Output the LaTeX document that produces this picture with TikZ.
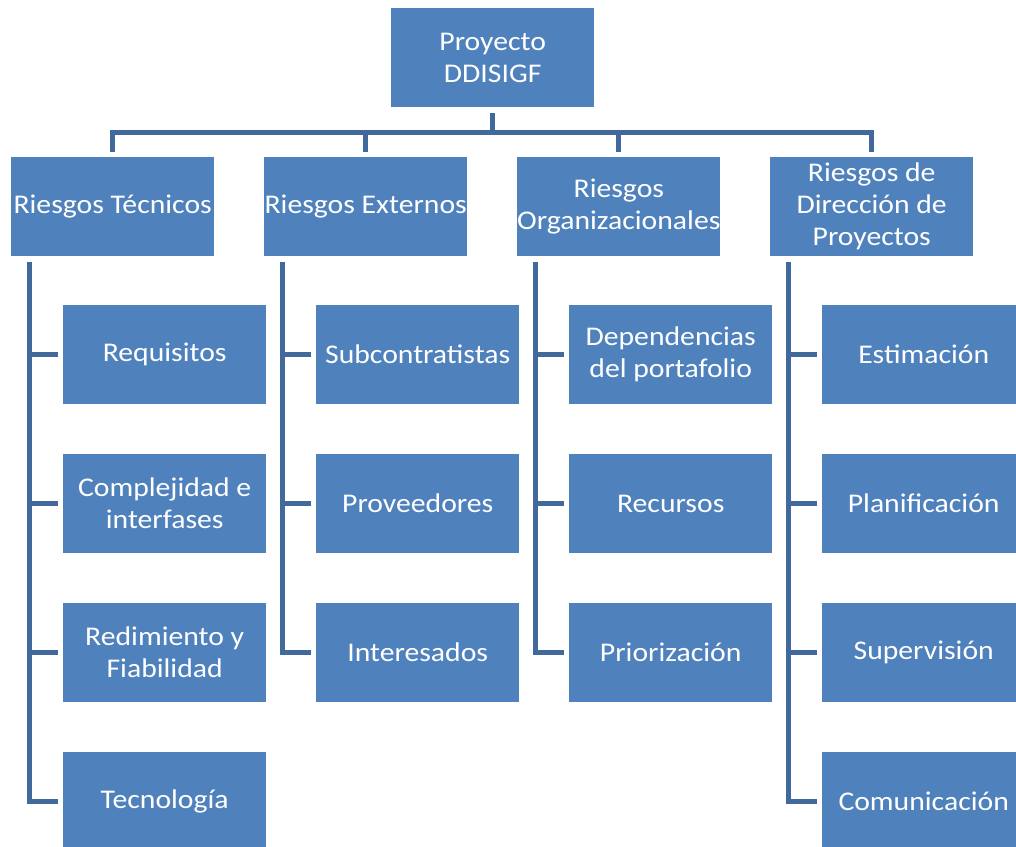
\documentclass[tikz,border=0pt]{standalone}
\usepackage{fontspec}
\setmainfont{Carlito}[FakeStretch=1.1]
\usetikzlibrary{calc}
\definecolor{boxblue}{HTML}{4F81BD}
\definecolor{lineblue}{HTML}{41699C}
\begin{document}
\begin{tikzpicture}[x=1pt,y=-1pt,
  box/.style={fill=boxblue, text=white, minimum width=203pt, minimum height=99pt,
    align=center, inner sep=0pt, anchor=north west,
    font=\fontsize{27}{32}\selectfont},
  link/.style={draw=lineblue, line width=5pt, line join=miter}]
\useasboundingbox (0,0) rectangle (1016,846);

% root
\node[box] (top) at (391,8) {Proyecto\\DDISIGF};

% risk categories
\node[box] (r1) at (11,157)  {Riesgos Técnicos};
\node[box] (r2) at (264,157) {Riesgos Externos};
\node[box] (r3) at (517,157) {Riesgos\\Organizacionales};
\node[box] (r4) at (770,157) {Riesgos de\\Dirección de\\Proyectos};

% technical
\node[box] (c11) at (63,305) {Requisitos};
\node[box] (c12) at (63,454) {Complejidad e\\interfases};
\node[box] (c13) at (63,603) {Redimiento y\\Fiabilidad};
\node[box] (c14) at (63,752) {Tecnología};
% external
\node[box] (c21) at (316,305) {Subcontratistas};
\node[box] (c22) at (316,454) {Proveedores};
\node[box] (c23) at (316,603) {Interesados};
% organizational
\node[box] (c31) at (569,305) {Dependencias\\del portafolio};
\node[box] (c32) at (569,454) {Recursos};
\node[box] (c33) at (569,603) {Priorización};
% project management
\node[box] (c41) at (822,305) {Estimación};
\node[box] (c42) at (822,454) {Planificación};
\node[box] (c43) at (822,603) {Supervisión};
\node[box] (c44) at (822,752) {Comunicación};

% top-level bar
\coordinate (bar) at (493,132);
\draw[link] ($(top.south)+(0,6)$) -- (top.south |- bar);
\draw[link] ($(r1.north)+(0,-5)$) -- (r1.north |- bar) -- (r4.north |- bar) -- ($(r4.north)+(0,-5)$);
\draw[link] ($(r2.north)+(0,-5)$) -- (r2.north |- bar);
\draw[link] ($(r3.north)+(0,-5)$) -- (r3.north |- bar);

% spines
\foreach \r/\last in {r1/c14, r2/c23, r3/c33, r4/c44}{
  \coordinate (s) at ($(\r.south west)+(18,6)$);
  \draw[link] (s) -- (s |- \last.west) -- ($(\last.west)+(-5,0)$);
}
% ticks
\foreach \r/\c in {r1/c11, r1/c12, r1/c13, r2/c21, r2/c22, r3/c31, r3/c32, r4/c41, r4/c42, r4/c43}{
  \coordinate (s) at ($(\r.south west)+(18,6)$);
  \draw[link] (s |- \c.west) -- ($(\c.west)+(-5,0)$);
}
\end{tikzpicture}
\end{document}
